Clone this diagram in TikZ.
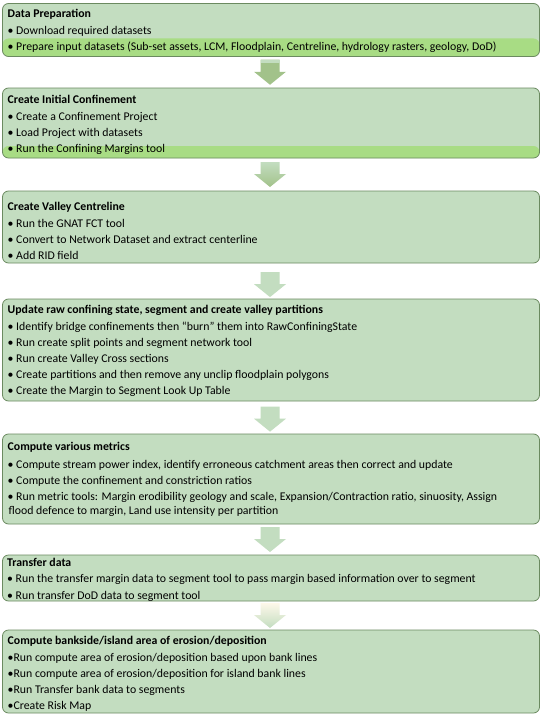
\documentclass[tikz,border=0pt]{standalone}
\usepackage{fontspec}
\setmainfont{Carlito}
\usetikzlibrary{calc}
\definecolor{boxfill}{HTML}{C3DDC0}
\definecolor{bandgreen}{HTML}{A8DC84}
\definecolor{boxborder}{HTML}{6B8A60}
\definecolor{arrowlight}{HTML}{C3DDC0}
\definecolor{arrowdark}{HTML}{A2C28A}
\definecolor{creamfill}{HTML}{FEF8EA}
\tikzset{
  box/.style={draw=boxborder, line width=0.8pt, fill=boxfill, rounded corners=6pt,
    minimum width=537pt, anchor=north west, inner sep=0pt, outer sep=0pt},
  banded/.style={path picture={\fill[bandgreen] ([yshift=#1]path picture bounding box.south west) rectangle (path picture bounding box.south east);}},
  txt/.style={anchor=north west, align=left, inner sep=0pt, font=\fontsize{11.8}{16}\selectfont},
  pics/downarrow/.style 2 args={code={
    \shade[top color=#1, bottom color=#2]
      (-9.5,-12.5) -- (9.5,-12.5) -- (9.5,-0.5) -- (16,-0.5) -- (0,12.5) -- (-16,-0.5) -- (-9.5,-0.5) -- cycle;
  }}
}
\begin{document}
\begin{tikzpicture}[x=1pt,y=-1pt]
\useasboundingbox (0,0) rectangle (547,717);
\fill[white] (0,0) rectangle (547,717);
% boxes
\node[box, banded=18pt, minimum height=53pt] (b1) at (2.5,3.5) {};
\node[box, banded=12pt, minimum height=70pt] (b2) at (2.5,88) {};
\node[box, minimum height=72pt] (b3) at (2.5,191) {};
\node[box, minimum height=102pt] (b4) at (2.5,299) {};
\node[box, minimum height=90pt] (b5) at (2.5,434) {};
\node[box, minimum height=46pt] (b6) at (2.5,555) {};
\node[box, minimum height=83pt] (b7) at (2.5,630) {};
% texts
\node[txt] (t1) at ($(b1.north west)+(5,5.5)$) {\textbf{Data Preparation}\\[1pt]
\textbullet\ Download required datasets\\
\textbullet\ Prepare input datasets (Sub-set assets, LCM, Floodplain, Centreline, hydrology rasters, geology, DoD)};
\node[txt] (t2) at ($(b2.north west)+(5,7)$) {\textbf{Create Initial Confinement}\\[1pt]
\textbullet\ Create a Confinement Project\\
\textbullet\ Load Project with datasets\\
\textbullet\ Run the Confining Margins tool};
\node[txt] (t3) at ($(b3.north west)+(5,11.5)$) {\textbf{Create Valley Centreline}\\[1pt]
\textbullet\ Run the GNAT FCT tool\\
\textbullet\ Convert to Network Dataset and extract centerline\\
\textbullet\ Add RID field};
\node[txt] (t4) at ($(b4.north west)+(5,6)$) {\textbf{Update raw confining state, segment and create valley partitions}\\[1pt]
\textbullet\ Identify bridge confinements then “burn” them into RawConfiningState\\
\textbullet\ Run create split points and segment network tool\\
\textbullet\ Run create Valley Cross sections\\
\textbullet\ Create partitions and then remove any unclip floodplain polygons\\
\textbullet\ Create the Margin to Segment Look Up Table};
\node[txt] (t5) at ($(b5.north west)+(5,8.5)$) {\textbf{Compute various metrics}\\[2pt]
\textbullet\ Compute stream power index, identify erroneous catchment areas then correct and update\\
\textbullet\ Compute the confinement and constriction ratios\\
\textbullet\ Run metric tools: Margin erodibility geology and scale, Expansion/Contraction ratio, sinuosity, Assign\\[-2.5pt]
\hspace*{1pt}flood defence to margin, Land use intensity per partition};
\node[txt] (t6) at ($(b6.north west)+(4.5,3.5)$) {\textbf{Transfer data}\\[0pt]
\textbullet\ Run the transfer margin data to segment tool to pass margin based information over to segment\\[1pt]
\textbullet\ Run transfer DoD data to segment tool};
\node[txt] (t7) at ($(b7.north west)+(5,5.5)$) {\textbf{Compute bankside/island area of erosion/deposition}\\[1pt]
\textbullet Run compute area of erosion/deposition based upon bank lines\\
\textbullet Run compute area of erosion/deposition for island bank lines\\
\textbullet Run Transfer bank data to segments\\
\textbullet Create Risk Map};
% arrows between boxes
\path (b1.south) -- (b2.north) coordinate[pos=0.5] (m1);
\path (b2.south) -- (b3.north) coordinate[pos=0.5] (m2);
\path (b3.south) -- (b4.north) coordinate[pos=0.6] (m3);
\path (b4.south) -- (b5.north) coordinate[pos=0.55] (m4);
\path (b5.south) -- (b6.north) coordinate[pos=0.5] (m5);
\path (b6.south) -- (b7.north) coordinate[pos=0.5] (m6);
\pic at ([xshift=-1pt]m1) {downarrow={arrowdark}{arrowdark}};
\fill[arrowlight] ($(m1)+(-10.5,-12.5)$) rectangle ($(m1)+(8.5,-9)$);
\pic at ([xshift=-1pt]m2) {downarrow={arrowlight}{arrowdark}};
\pic at ([xshift=-1pt]m3) {downarrow={arrowlight}{arrowlight}};
\pic at ([xshift=-1pt]m4) {downarrow={arrowlight}{arrowlight}};
\pic at ([xshift=-1pt]m5) {downarrow={arrowlight}{arrowlight}};
\pic at ([xshift=-1pt]m6) {downarrow={creamfill}{arrowlight}};
\end{tikzpicture}
\end{document}
